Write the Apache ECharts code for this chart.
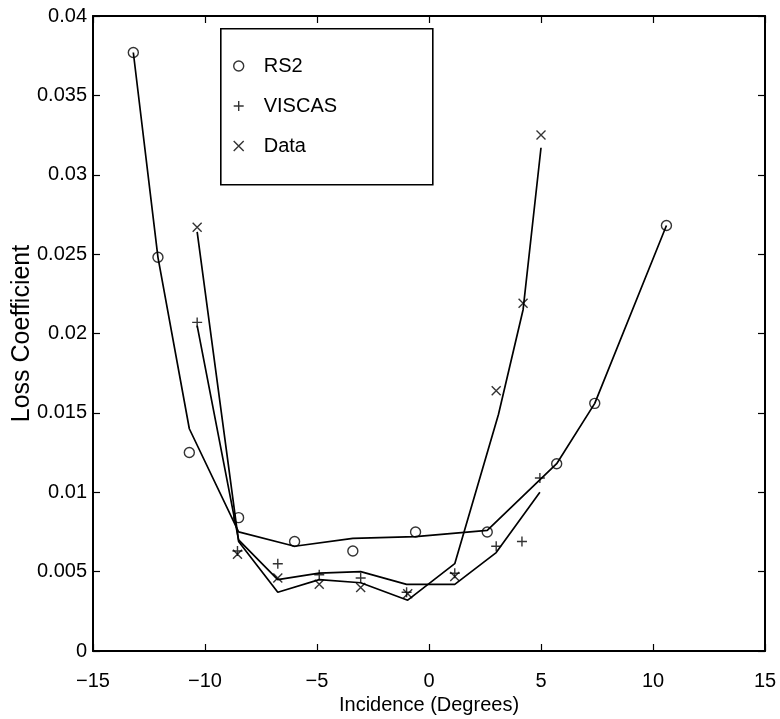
<!DOCTYPE html>
<html>
<head>
<meta charset="utf-8">
<script src="https://cdn.jsdelivr.net/npm/echarts@6/dist/echarts.min.js"></script>
<style>
  html, body { margin: 0; padding: 0; background: #fff; }
  #chart { width: 780px; height: 719px; }
</style>
</head>
<body>
<div id="chart"></div>
<script>
// Loss coefficient versus incidence angle: RS2 and VISCAS predictions and measured data.

// RS2 (circles) and its curve
const rs2X = [-13.2, -12.1, -10.7, -8.5, -6.0, -3.4, -0.6, 2.6, 5.7, 7.4, 10.6];
const rs2Points = [0.0377, 0.0248, 0.0125, 0.0084, 0.0069, 0.0063, 0.0075, 0.0075, 0.0118, 0.0156, 0.0268];
const rs2Curve = [0.0377, 0.0248, 0.0140, 0.0075, 0.0066, 0.0071, 0.0072, 0.0076, 0.0118, 0.0156, 0.0268];

// VISCAS (plus signs) and its curve
const viscasX = [-10.35, -8.55, -6.75, -4.9, -3.05, -1.0, 1.15, 3.0, 4.15, 4.95];
const viscasPoints = [0.0207, 0.0063, 0.0055, 0.0048, 0.0046, 0.0037, 0.0049, 0.0066, 0.0069, 0.0109];
const viscasCurveX = [-10.35, -8.5, -6.75, -4.9, -3.05, -1.0, 1.15, 3.0, 4.95];
const viscasCurve = [0.0205, 0.0070, 0.0045, 0.0049, 0.0050, 0.0042, 0.0042, 0.0062, 0.0100];

// Measured data (crosses) and its curve
const dataX = [-10.35, -8.55, -6.75, -4.9, -3.05, -0.95, 1.15, 3.0, 4.2, 5.0];
const dataPoints = [0.0267, 0.0061, 0.0046, 0.0042, 0.0040, 0.0036, 0.0047, 0.0164, 0.0219, 0.0325];
const dataCurveX = [-10.35, -8.5, -6.75, -4.9, -3.05, -0.95, 1.15, 3.1, 4.2, 5.0];
const dataCurve = [0.0264, 0.0069, 0.0037, 0.0045, 0.0043, 0.0032, 0.0055, 0.0149, 0.0215, 0.0317];

// Axis ranges and ticks
const xRange = [-15, 15], xStep = 5;
const yRange = [0, 0.04], yStep = 0.005;

const FONT = '"Liberation Sans", Arial, Helvetica, sans-serif';
const INK = '#000';

const zip = (xs, ys) => xs.map((x, i) => [x, ys[i]]);

const plusPath = 'path://M5,0L5,10M0,5L10,5';
const crossPath = 'path://M0,0L10,10M10,0L0,10';

const markerStyle = { color: 'rgba(0,0,0,0)', borderColor: INK, borderWidth: 1.4 };

function curve(xs, ys) {
  return {
    type: 'line', data: zip(xs, ys), showSymbol: false, symbol: 'none',
    lineStyle: { color: INK, width: 1.7 }, silent: true, z: 2
  };
}
function markers(name, xs, ys, symbol, size) {
  return {
    name, type: 'scatter', data: zip(xs, ys), symbol, symbolSize: size,
    itemStyle: markerStyle, silent: true, z: 3
  };
}

const xLabelFmt = v => (v < 0 ? '\u2212' + Math.abs(v) : String(v));
const yLabelFmt = v => (Math.abs(v) < 1e-12 ? '0' : String(+v.toFixed(3)));

function axisCommon() {
  return {
    axisLine: { show: true, onZero: false, lineStyle: { color: INK, width: 2 } },
    axisTick: { show: true, inside: true, length: 7, lineStyle: { color: INK, width: 1.2 } },
    splitLine: { show: false }
  };
}

const chart = echarts.init(document.getElementById('chart'), null, { renderer: 'canvas' });
chart.setOption({
  animation: false,
  backgroundColor: '#fff',
  grid: { left: 93, right: 15, top: 16, bottom: 68, containLabel: false, outerBoundsMode: 'none' },
  xAxis: [
    Object.assign({
      type: 'value', position: 'bottom', min: xRange[0], max: xRange[1], interval: xStep,
      name: 'Incidence (Degrees)', nameLocation: 'middle', nameGap: 44, nameMoveOverlap: false,
      nameTextStyle: { color: INK, fontSize: 20, fontFamily: FONT },
      axisLabel: { color: INK, fontSize: 20, fontFamily: FONT, margin: 20, formatter: xLabelFmt }
    }, axisCommon()),
    Object.assign({
      type: 'value', position: 'top', min: xRange[0], max: xRange[1], interval: xStep,
      axisLabel: { show: false }
    }, axisCommon())
  ],
  yAxis: [
    Object.assign({
      type: 'value', position: 'left', min: yRange[0], max: yRange[1], interval: yStep,
      name: 'Loss Coefficient', nameLocation: 'middle', nameGap: 58, nameRotate: 90,
      nameMoveOverlap: false,
      nameTextStyle: { color: INK, fontSize: 25, fontFamily: FONT },
      axisLabel: { color: INK, fontSize: 20, fontFamily: FONT, margin: 6, formatter: yLabelFmt }
    }, axisCommon()),
    Object.assign({
      type: 'value', position: 'right', min: yRange[0], max: yRange[1], interval: yStep,
      axisLabel: { show: false }
    }, axisCommon())
  ],
  legend: {
    data: ['RS2', 'VISCAS', 'Data'],
    orient: 'vertical', left: 233, top: 56, padding: 0,
    itemWidth: 40, itemHeight: 10, itemGap: 20,
    itemStyle: { borderWidth: 1.4 },
    textStyle: { color: INK, fontSize: 20, lineHeight: 20, fontFamily: FONT },
    selectedMode: false
  },
  graphic: [{
    type: 'rect', left: 220, top: 28, z: 10, silent: true,
    shape: { x: 0, y: 0, width: 212, height: 156 },
    style: { fill: 'rgba(0,0,0,0)', stroke: INK, lineWidth: 1.6 }
  }],
  series: [
    curve(rs2X, rs2Curve),
    curve(viscasCurveX, viscasCurve),
    curve(dataCurveX, dataCurve),
    markers('RS2', rs2X, rs2Points, 'circle', 10),
    markers('VISCAS', viscasX, viscasPoints, plusPath, 10),
    markers('Data', dataX, dataPoints, crossPath, 9)
  ]
});
</script>
</body>
</html>
